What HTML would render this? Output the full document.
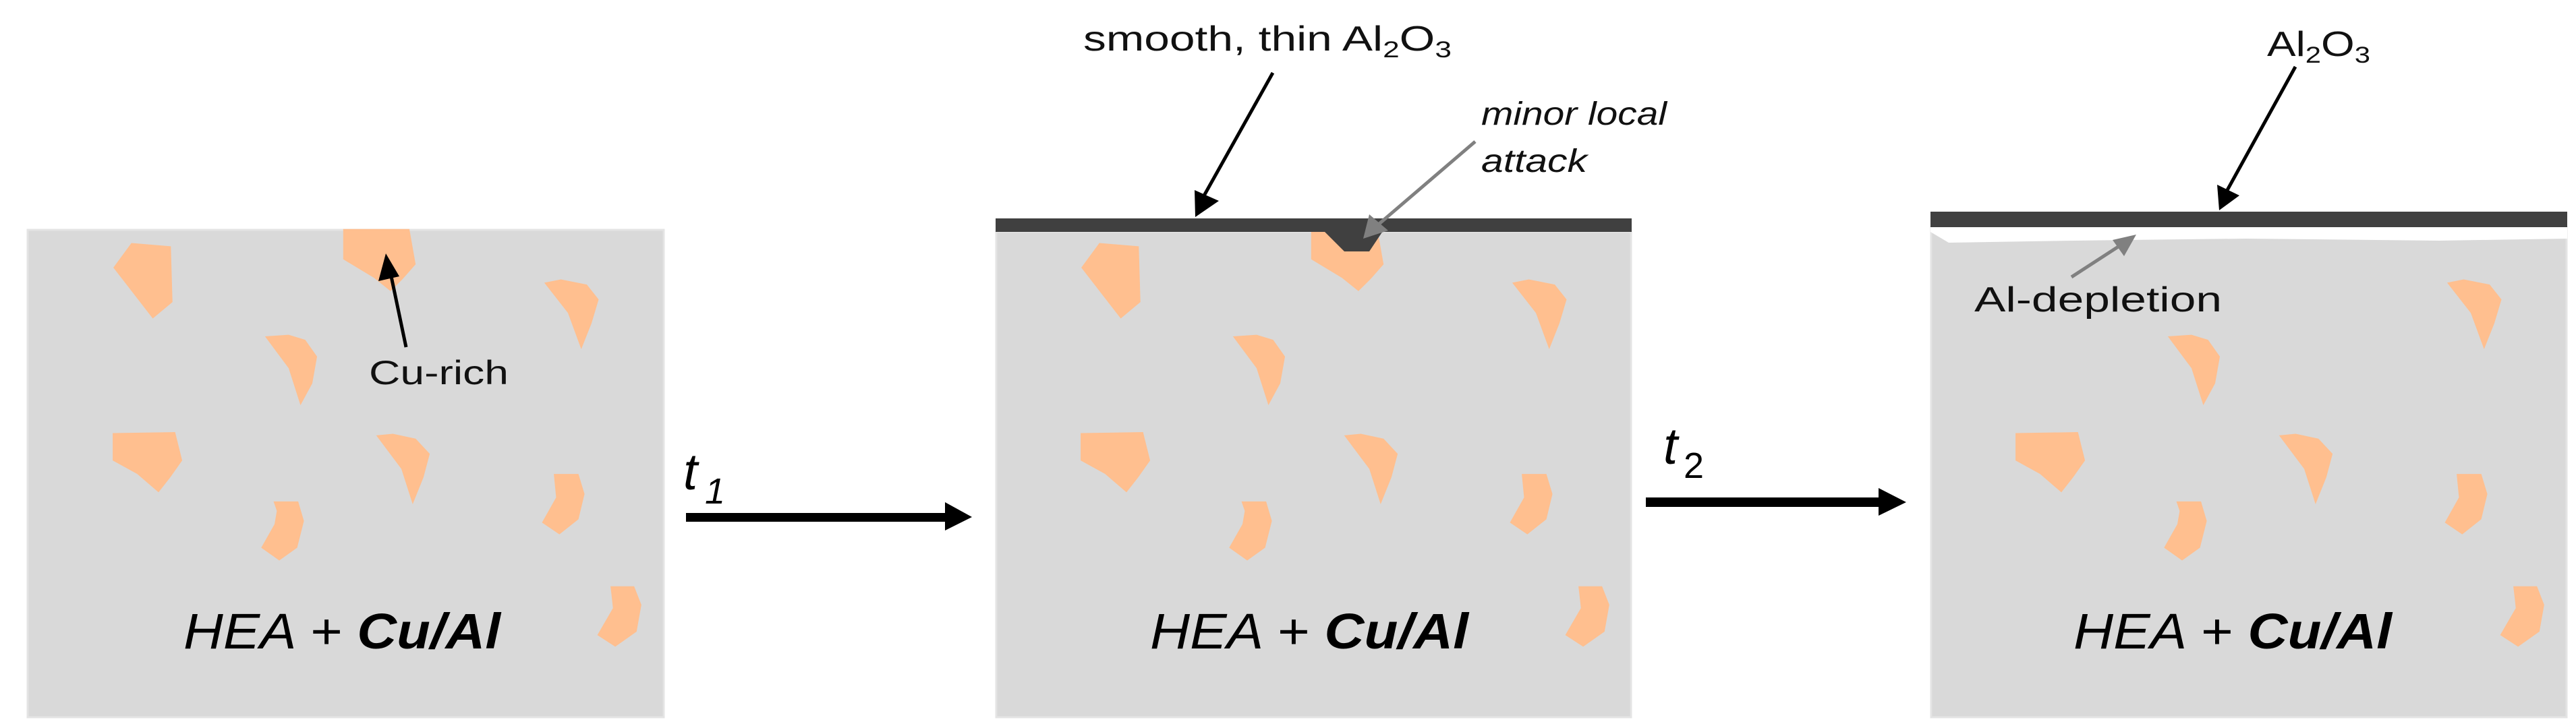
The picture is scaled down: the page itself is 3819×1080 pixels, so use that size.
<!DOCTYPE html>
<html><head><meta charset="utf-8"><style>html,body{margin:0;padding:0;background:#fff}svg{display:block}</style></head>
<body>
<svg xmlns="http://www.w3.org/2000/svg" width="3819" height="1080" viewBox="0 0 3819 1080" font-family="Liberation Sans, sans-serif">
<defs>
<g id="pAB" fill="#ffbf8f">
<polygon points="80,148 104,150 105,184 93,194 69,163"/>
<polygon points="208.9,139.5 249.2,139.5 253,161 244.9,170.2 237.7,177.3 227.6,169.2 208.9,157.9"/>
</g>
<g id="pR" fill="#ffbf8f">
<polygon points="331.3,172.2 341.4,170.2 357.2,173.3 364.4,182.4 360.1,196.8 353.8,212.7 345.7,190.6"/>
<polygon points="161.3,204.9 175.7,203.9 185.8,207 193,217.2 190.1,233.5 182.9,246.8 175.7,224.3"/>
<polygon points="68.6,263.8 106.6,263.2 110.9,280.5 103.7,290.7 96.5,299.9 83.5,288.7 68.6,280.5"/>
<polygon points="229,265.2 239.1,264.2 253,267.2 261.6,276.4 257.8,290.7 251.2,307.1 244.3,285.6"/>
<polygon points="166.5,305.4 181.5,305.4 185,317.3 180.9,333.6 170,341.4 159,333.6 167.1,319.3 168.5,311.2"/>
<polygon points="337.1,288.7 352.1,288.7 355.8,300.9 352.1,316.3 340.5,325.5 329.9,318.3 338.5,303 337.7,294.8"/>
<polygon points="371.6,357.1 386,357.1 390.4,368.4 387.5,384.7 374.5,393.9 363.6,386.8 373.1,370.4 372.2,362.2"/>
</g>
</defs>

<!-- Panel 1 -->
<rect x="41" y="341" width="943" height="723" fill="#d9d9d9" stroke="#e4e4e4" stroke-width="3"/>
<g transform="scale(2.4356)"><use href="#pAB"/><use href="#pR"/></g>
<!-- Cu-rich arrow -->
<line x1="602" y1="515" x2="580" y2="410" stroke="#000" stroke-width="5"/>
<polygon points="572,376 561,417 592,410" fill="#000"/>
<text x="547" y="570" font-size="50" textLength="207" lengthAdjust="spacingAndGlyphs" fill="#111">Cu-rich</text>
<text x="272" y="962" font-size="74" font-style="italic" textLength="470" lengthAdjust="spacingAndGlyphs" fill="#000">HEA + <tspan font-weight="bold">Cu/Al</tspan></text>

<!-- t1 arrow -->
<rect x="1017" y="761" width="390" height="13" fill="#000"/>
<polygon points="1401,745 1441,767 1401,787" fill="#000"/>
<text x="1013" y="726" font-size="76" font-style="italic" fill="#000">t</text>
<text x="1045" y="747" font-size="54" font-style="italic" fill="#000">1</text>

<!-- Panel 2 -->
<rect x="1477" y="344" width="941" height="720" fill="#d9d9d9" stroke="#e4e4e4" stroke-width="3"/>
<g transform="translate(1435,0) scale(2.4356)"><use href="#pAB"/><use href="#pR"/></g>
<rect x="1476" y="324" width="943" height="20" fill="#404040"/>
<polygon points="1963,343 1993,373 2030,373 2050,343" fill="#404040"/>
<text x="1606" y="75" font-size="52" textLength="546" lengthAdjust="spacingAndGlyphs" fill="#111">smooth, thin Al<tspan font-size="34" dy="10">2</tspan><tspan dy="-10">O</tspan><tspan font-size="34" dy="10">3</tspan></text>
<line x1="1887" y1="108" x2="1784" y2="292" stroke="#000" stroke-width="5"/>
<polygon points="1772,322 1771,282 1807,298" fill="#000"/>
<text x="2196" y="185" font-size="48" font-style="italic" textLength="275" lengthAdjust="spacingAndGlyphs" fill="#111">minor local</text>
<text x="2196" y="255" font-size="48" font-style="italic" textLength="157" lengthAdjust="spacingAndGlyphs" fill="#111">attack</text>
<line x1="2187" y1="210" x2="2040" y2="336" stroke="#808080" stroke-width="5"/>
<polygon points="2021,354 2030,318 2058,342" fill="#808080"/>
<text x="1705" y="962" font-size="74" font-style="italic" textLength="472" lengthAdjust="spacingAndGlyphs" fill="#000">HEA + <tspan font-weight="bold">Cu/Al</tspan></text>

<!-- t2 arrow -->
<rect x="2440" y="738" width="350" height="14" fill="#000"/>
<polygon points="2785,724 2826,745 2785,765" fill="#000"/>
<text x="2466" y="688" font-size="76" font-style="italic" fill="#000">t</text>
<text x="2496" y="709" font-size="54" fill="#000">2</text>

<!-- Panel 3 -->
<rect x="2863" y="337" width="942" height="727" fill="#d9d9d9" stroke="#e4e4e4" stroke-width="3"/>
<g transform="translate(2821,0) scale(2.4356)"><use href="#pR"/></g>
<path d="M2862,336 L3806,336 L3806,354 L3616,357 L3329,354 L3074,357 L2889,360 L2862,344 Z" fill="#fff"/>
<rect x="2862" y="314" width="944" height="23" fill="#404040"/>
<text x="3361" y="83" font-size="52" textLength="153" lengthAdjust="spacingAndGlyphs" fill="#111">Al<tspan font-size="34" dy="10">2</tspan><tspan dy="-10">O</tspan><tspan font-size="34" dy="10">3</tspan></text>
<line x1="3403" y1="99" x2="3302" y2="282" stroke="#000" stroke-width="5"/>
<polygon points="3290,312 3287,274 3320,290" fill="#000"/>
<text x="2927" y="462" font-size="52" textLength="367" lengthAdjust="spacingAndGlyphs" fill="#111">Al-depletion</text>
<line x1="3071" y1="411" x2="3148" y2="361" stroke="#808080" stroke-width="5"/>
<polygon points="3167,348 3149,380 3132,356" fill="#808080"/>
<text x="3074" y="962" font-size="74" font-style="italic" textLength="472" lengthAdjust="spacingAndGlyphs" fill="#000">HEA + <tspan font-weight="bold">Cu/Al</tspan></text>
</svg>
</body></html>
